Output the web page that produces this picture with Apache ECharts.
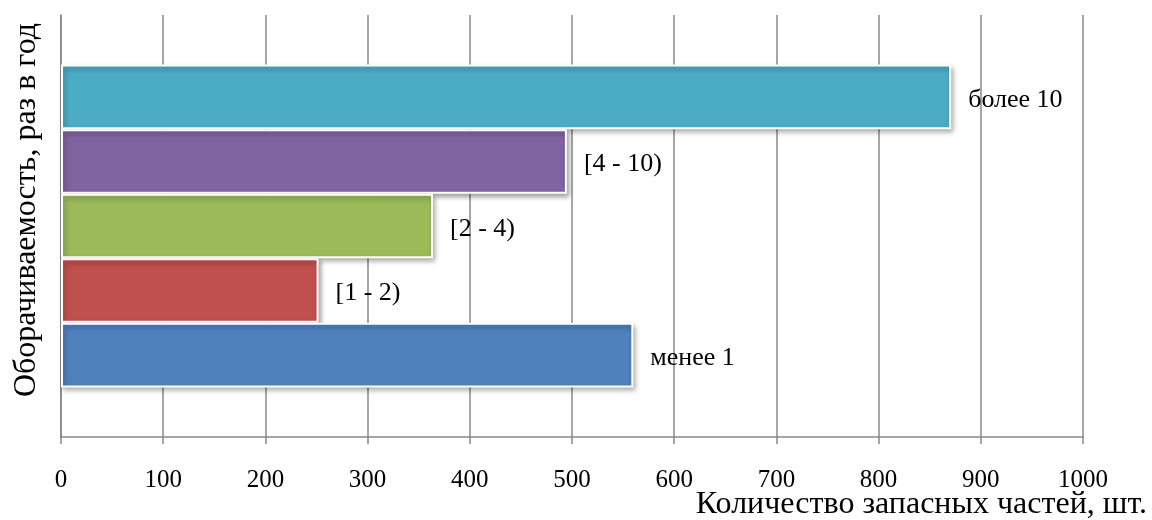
<!DOCTYPE html>
<html><head><meta charset="utf-8">
<script src="https://cdn.jsdelivr.net/npm/echarts@6/dist/echarts.min.js"></script>
<style>html,body{margin:0;padding:0;background:#fff}#c{width:1152px;height:520px}</style>
</head><body><div id="c"></div>
<script>
const categories = ['менее 1', '[1 - 2)', '[2 - 4)', '[4 - 10)', 'более 10'];
const values = [560, 252, 364, 495, 871];
const colors = ['#4F81BD', '#C0504D', '#9BBB59', '#8064A2', '#4BACC6'];
const xTicks = [0, 100, 200, 300, 400, 500, 600, 700, 800, 900, 1000];
const xTitle = 'Количество запасных частей, шт.';
const yTitle = 'Оборачиваемость, раз в год';

const serif = '"Liberation Serif", "Times New Roman", serif';
const chart = echarts.init(document.getElementById('c'));
const order = categories.map((_, i) => i).reverse(); // top-to-bottom: более 10 first
const series = order.map(i => ({
  type: 'bar',
  name: categories[i],
  data: [values[i]],
  barGap: '0%',
  barCategoryGap: '23.5%',
  itemStyle: {
    color: colors[i],
    borderColor: '#fff',
    borderWidth: 2,
    shadowColor: 'rgba(0,0,0,0.35)',
    shadowBlur: 5,
    shadowOffsetX: 2,
    shadowOffsetY: 3
  },
  label: {
    show: true,
    position: 'right',
    distance: 17,
    offset: [0, 3],
    formatter: categories[i],
    color: '#000',
    fontFamily: serif,
    fontSize: 26
  },
  z: 2
}));
chart.setOption({
  animation: false,
  grid: { left: 61, right: 69, top: 15, bottom: 83, containLabel: false, outerBoundsMode: 'none' },
  xAxis: {
    type: 'value', min: xTicks[0], max: xTicks[xTicks.length - 1], interval: 100,
    axisLine: { show: true, lineStyle: { color: '#888', width: 1.5 } },
    axisTick: { show: true, length: 7, lineStyle: { color: '#888', width: 1.5 } },
    splitLine: { show: true, lineStyle: { color: '#888', width: 1.5 } },
    axisLabel: { color: '#000', fontFamily: serif, fontSize: 25, margin: 31, formatter: v => String(v) }
  },
  yAxis: {
    type: 'category', data: [''],
    axisLine: { show: true, lineStyle: { color: '#888', width: 1.5 } },
    axisTick: { show: false },
    axisLabel: { show: false }
  },
  graphic: [{
    type: 'text', right: 5, top: 489,
    style: { text: xTitle, fill: '#000', font: '32px ' + serif }
  }, {
    type: 'text', x: 27, y: 210, rotation: Math.PI / 2,
    style: { text: yTitle, fill: '#000', font: '32px ' + serif, align: 'center', verticalAlign: 'middle' }
  }],
  series: series
});
</script></body></html>
